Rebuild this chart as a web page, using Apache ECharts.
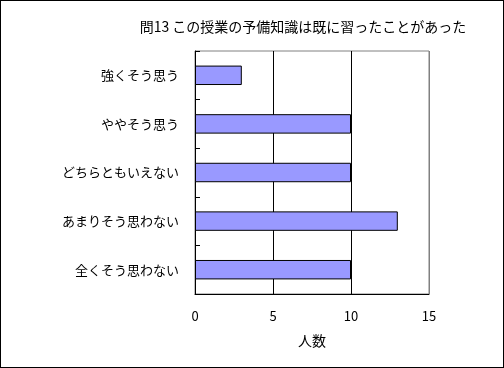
<!DOCTYPE html>
<html><head><meta charset="utf-8">
<script src="https://cdn.jsdelivr.net/npm/echarts@6/dist/echarts.min.js"></script>
<style>html,body{margin:0;padding:0;background:#fff}#c{width:504px;height:368px;box-sizing:border-box;border:1px solid #000}</style>
</head><body><div id="c"></div>
<script>
const title = '問13 この授業の予備知識は既に習ったことがあった';
const categories = ['強くそう思う','ややそう思う','どちらともいえない','あまりそう思わない','全くそう思わない'];
const values = [3, 10, 10, 13, 10];
const xTicks = {min: 0, max: 15, interval: 5};
const xName = '人数';
const font = '"Noto Sans CJK JP", sans-serif';
const chart = echarts.init(document.getElementById('c'));
chart.setOption({
  animation: false,
  title: {text: title, left: 297, top: 14, textAlign: 'center',
    textStyle: {fontFamily: font, fontSize: 14, fontWeight: 'normal', color: '#000'}},
  grid: {left: 194, right: 74, top: 50, bottom: 73, show: true, borderColor: '#808080', borderWidth: 1, backgroundColor: '#fff'},
  xAxis: {type: 'value', min: xTicks.min, max: xTicks.max, interval: xTicks.interval,
    name: xName, nameLocation: 'middle', nameGap: 40,
    nameTextStyle: {fontFamily: font, fontSize: 14, color: '#000'},
    axisLine: {show: true, lineStyle: {color: '#000'}}, axisTick: {show: false},
    axisLabel: {fontFamily: font, fontSize: 13, color: '#000', margin: 16},
    splitLine: {show: true, lineStyle: {color: ['#000','#000','#000','#808080'], width: 1}}},
  yAxis: {type: 'category', data: categories, inverse: true,
    axisLine: {show: true, lineStyle: {color: '#000'}},
    axisTick: {show: true, inside: true, length: 5, lineStyle: {color: '#000'}},
    axisLabel: {fontFamily: font, fontSize: 13, color: '#000', margin: 16}},
  series: [{type: 'bar', data: values, barCategoryGap: '60%',
    itemStyle: {color: '#9999FF', borderColor: '#000', borderWidth: 1}}]
});
</script></body></html>
